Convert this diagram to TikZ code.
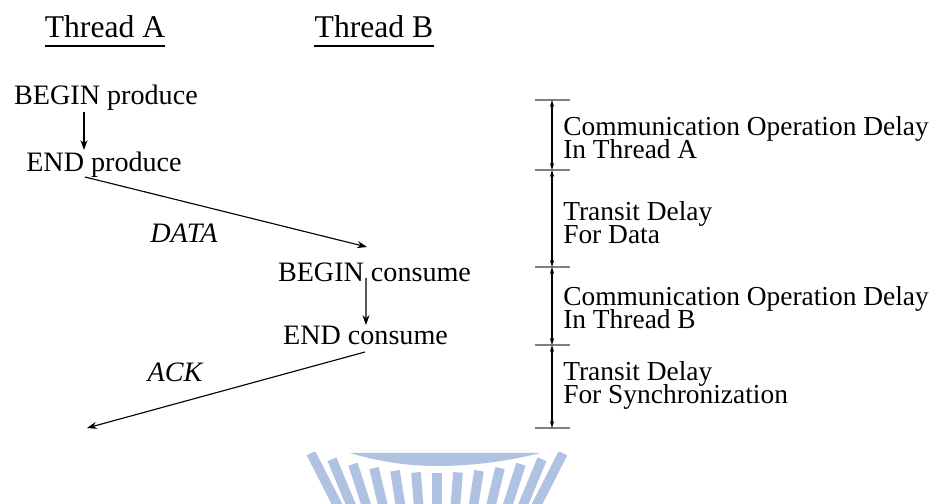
\documentclass[tikz,border=0pt]{standalone}
\usepackage{fontspec}
\setmainfont{Liberation Serif}
\usepackage{tikz}
\usetikzlibrary{arrows.meta, positioning, calc}
\definecolor{wmblue}{RGB}{176,194,226}
\setlength{\lineskiplimit}{-20pt}

\begin{document}
\begin{tikzpicture}[x=0.025cm, y=-0.025cm, >={Stealth[length=7pt,width=5pt]},
  every node/.style={inner sep=0pt, font=\fontsize{20}{16.4}\selectfont},
  head/.style={font=\fontsize{22.5}{24}\selectfont},
  delay/.style={anchor=north west, align=left, font=\fontsize{19.5}{16.4}\selectfont}]
\useasboundingbox (0,0) rectangle (936,504);
% headers
\node[head, anchor=base] (thA) at (105,38) {Thread A};
\node[head, anchor=base] (thB) at (374,38) {Thread B};
\draw[line width=1.3pt] ($(thA.base west)+(0,8)$) -- ($(thA.base east)+(0,8)$);
\draw[line width=1.3pt] ($(thB.base west)+(0,8)$) -- ($(thB.base east)+(0,8)$);
% left: the two threads
\node[anchor=base] (bp) at (106,105) {BEGIN produce};
\node[anchor=base] (ep) at (104,172) {END produce};
\node[anchor=base] (bc) at (374.5,282) {BEGIN consume};
\node[anchor=base] (ec) at (365.5,345) {END consume};
\node[anchor=base] (data) at (184,243) {\itshape DATA};
\node[anchor=base] (ack) at (175,382) {\itshape ACK};
\coordinate (ackend) at (87,428);
\draw[->, line width=0.8pt] ($(bp.base)+(-22,7)$) -- ($(ep.base)+(-20,-22)$);
\draw[->, line width=0.8pt] ($(ep.base)+(-19,5)$) -- ($(bc.base)+(-7.5,-35)$);
\draw[->, line width=0.8pt] ($(bc.base)+(-8.5,-4)$) -- ($(ec.base)+(0.5,-20)$);
\draw[->, line width=0.8pt] ($(ec.base)+(-0.5,7)$) -- (ackend);
% right: delay scale
\coordinate (t0) at (552,100);
\coordinate (t1) at (552,170);
\coordinate (t2) at (552,267);
\coordinate (t3) at (552,345);
\coordinate (t4) at (552,428);
\foreach \t in {t0,t1,t2,t3,t4}
  \draw[gray, line width=1pt] ($(\t)+(-17,0)$) -- ($(\t)+(18,0)$);
\begin{scope}[line width=0.9pt, >={Stealth[length=5pt,width=3pt]}]
\draw[<->] (t0) -- (t1);
\draw[<->] (t1) -- (t2);
\draw[<->] (t2) -- (t3);
\draw[<->] (t3) -- (t4);
\end{scope}
\node[delay] (d1) at (563,116.5) {Communication Operation Delay\\In Thread A};
\node[delay] (d2) at (563,201.5) {Transit Delay\\For Data};
\node[delay] (d3) at (563,286.5) {Communication Operation Delay\\In Thread B};
\node[delay] (d4) at (563,361.5) {Transit Delay\\For Synchronization};
% watermark at the bottom
\begin{scope}
\clip (300,453) rectangle (590,504);
\fill[wmblue] (350,453) parabola bend (437,466) (540,453) -- cycle;
\foreach \k in {-6,...,6} {
  \pgfmathsetmacro{\bx}{437+21*\k}
  \pgfmathsetmacro{\by}{473-0.55*\k*\k}
  \draw[wmblue, line width=0.24cm] (\bx,\by) -- ++({-sin(4.5*\k)*70},{cos(4.5*\k)*70});
}
\end{scope}
\end{tikzpicture}
\end{document}
